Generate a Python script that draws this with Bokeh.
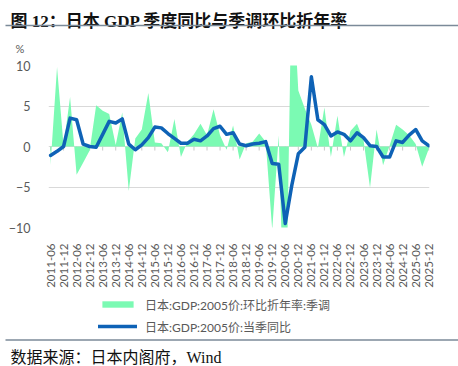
import math
from bokeh.plotting import figure
from bokeh.layouts import column
from bokeh.models import Range1d, FixedTicker, Legend, LegendItem
from bokeh.core.properties import value
from bokeh.embed import file_html
from bokeh.resources import INLINE

# ---------------- data ----------------
quarters = [
    "2011-06", "2011-09", "2011-12", "2012-03", "2012-06", "2012-09", "2012-12",
    "2013-03", "2013-06", "2013-09", "2013-12", "2014-03", "2014-06", "2014-09",
    "2014-12", "2015-03", "2015-06", "2015-09", "2015-12", "2016-03", "2016-06",
    "2016-09", "2016-12", "2017-03", "2017-06", "2017-09", "2017-12", "2018-03",
    "2018-06", "2018-09", "2018-12", "2019-03", "2019-06", "2019-09", "2019-12",
    "2020-03", "2020-06", "2020-09", "2020-12", "2021-03", "2021-06", "2021-09",
    "2021-12", "2022-03", "2022-06", "2022-09", "2022-12", "2023-03", "2023-06",
    "2023-09", "2023-12", "2024-03", "2024-06", "2024-09", "2024-12", "2025-03",
    "2025-06", "2025-09", "2025-12",
]
# 日本:GDP:2005价:环比折年率:季调 (%)
saar = [
    -2.3, 9.8, 0.1, 6.1, -3.5, -2.0, -0.5, 5.1, 4.4, 4.0,
    0.2, 4.2, -5.5, 1.0, 2.1, 6.6, 0.5, 0.4, -0.7, 3.4,
    -1.3, 0.6, 1.5, 2.8, 1.4, 4.6, 1.4, -0.4, 2.6, -1.6,
    0.4, 0.6, 1.6, 0.6, -10.3, 1.4, -28.0, 22.0, 6.9, 4.7,
    2.7, -0.2, 4.8, -1.3, 3.8, -1.3, 1.9, 2.8, 0.8, -5.1,
    2.1, -2.3, 0.1, 2.7, 2.1, 1.4, 0.3, -2.5, -0.3,
]
# 日本:GDP:2005价:当季同比 (%)
yoy = [
    -1.1, -0.6, 0.0, 3.5, 3.3, 0.3, 0.0, -0.1, 1.5, 3.1,
    2.9, 3.4, 0.3, -0.4, 0.2, 1.1, 2.4, 2.3, 1.6, 1.0,
    0.4, 0.4, 0.9, 0.7, 1.3, 2.2, 2.5, 1.5, 1.7, 0.3,
    0.1, 0.3, 0.4, 0.6, -2.1, -2.2, -9.5, -4.8, -0.9, -0.1,
    8.6, 3.3, 2.7, 1.3, 1.8, 1.5, 0.7, 1.7, 1.1, 0.1,
    0.0, -1.3, -1.3, 0.7, 0.5, 1.4, 2.1, 0.7, 0.1,
]
tick_labels = [
    "2011-06", "2011-12", "2012-06", "2012-12", "2013-06", "2013-12",
    "2014-06", "2014-12", "2015-06", "2015-12", "2016-06", "2016-12",
    "2017-06", "2017-12", "2018-06", "2018-12", "2019-06", "2019-12",
    "2020-06", "2020-12", "2021-06", "2021-12", "2022-06", "2022-12",
    "2023-06", "2023-12", "2024-06", "2024-12", "2025-06", "2025-12",
]
y_ticks = [-10, -5, 0, 5, 10]

title_text = "图 12：日本 GDP 季度同比与季调环比折年率"
source_text = "数据来源：日本内阁府，Wind"
unit_text = "%"
name_saar = "日本:GDP:2005价:环比折年率:季调"
name_yoy = "日本:GDP:2005价:当季同比"

# ---------------- style ----------------
GREEN = "#7BFAB3"
BLUE = "#0E62B6"
GRID = "#d9d9d9"
TXT = "#595959"
RULE = "#7b8a99"
SANS = "Lato, 'Noto Sans CJK SC'"
SERIF = "'Liberation Serif', 'Noto Sans CJK SC'"
NAN = float("nan")


def strip(h):
    f = figure(width=458, height=h, x_range=Range1d(0, h and 458), y_range=Range1d(0, h),
               output_backend="svg", toolbar_location=None, min_border=0,
               x_axis_type=None, y_axis_type=None)
    f.grid.visible = False
    f.outline_line_color = None
    f.frame_align = False
    return f


xs = [quarters.index(q) for q in quarters]
tick_pos = [quarters.index(t) for t in tick_labels]

# ---------------- title strip (title, rule, unit) ----------------
pt = strip(56)
pt.text(x=[10], y=[35.5], text=[title_text], text_font=value(SERIF),
        text_font_size="17px", text_font_style="bold", text_color="#111111",
        text_baseline="alphabetic", text_align="left")
pt.segment(x0=[5], y0=[31], x1=[458], y1=[31], line_color=RULE, line_width=1.5)
pt.text(x=[15], y=[8.5], text=[unit_text], text_font=value(SANS),
        text_font_size="11px", text_color=TXT,
        text_baseline="alphabetic", text_align="left")

# ---------------- main chart ----------------
p = figure(width=458, height=234, x_range=Range1d(-0.31, 58.12), y_range=Range1d(-10, 10),
           output_backend="svg", toolbar_location=None,
           min_border_left=48, min_border_right=29, min_border_top=9, min_border_bottom=60)
p.frame_align = False
p.outline_line_color = None
p.background_fill_color = "white"

p.xgrid.visible = False
p.ygrid.ticker = FixedTicker(ticks=y_ticks)
p.ygrid.grid_line_color = GRID
p.ygrid.grid_line_width = 1

# small tick marks on the zero line
p.segment(x0=tick_pos, y0=[0] * len(tick_pos), x1=tick_pos, y1=[-0.5] * len(tick_pos),
          line_color="#c8c8c8", line_width=1)

p.varea(x=xs, y1=[0] * len(xs), y2=saar, fill_color=GREEN, fill_alpha=1.0)
p.line(x=xs, y=yoy, line_color=BLUE, line_width=3.5, line_join="round", line_cap="round")

yax = p.yaxis[0]
yax.ticker = FixedTicker(ticks=y_ticks)
yax.axis_line_color = None
yax.major_tick_line_color = None
yax.minor_tick_line_color = None
yax.major_label_standoff = 12
yax.major_label_text_font = SANS
yax.major_label_text_font_size = "12.5px"
yax.major_label_text_color = TXT

xax = p.xaxis[0]
xax.ticker = FixedTicker(ticks=tick_pos)
xax.major_label_overrides = {pos: lab for pos, lab in zip(tick_pos, tick_labels)}
xax.major_label_orientation = math.pi / 2
xax.axis_line_color = None
xax.major_tick_line_color = None
xax.minor_tick_line_color = None
xax.major_label_standoff = 10
xax.major_label_text_font = SANS
xax.major_label_text_font_size = "11.5px"
xax.major_label_text_color = TXT

# ---------------- legend strip (legend keys use proxy renderers with no visible data) ----------------
pl = strip(48)
lg_area = pl.varea(x=[NAN], y1=[NAN], y2=[NAN], fill_color=GREEN, fill_alpha=1.0)
lg_line = pl.line(x=[NAN], y=[NAN], line_color=BLUE, line_width=3.5, line_cap="round")
legend = Legend(items=[LegendItem(label=name_saar, renderers=[lg_area]),
                       LegendItem(label=name_yoy, renderers=[lg_line])],
                location=(98, 3.5), orientation="vertical",
                padding=0, margin=0, spacing=5,
                glyph_width=39, glyph_height=8, label_height=16, label_standoff=8,
                label_text_font=SANS, label_text_font_size="12px",
                label_text_color=TXT, border_line_color=None,
                background_fill_alpha=0.0)
pl.add_layout(legend, "center")

# ---------------- source strip ----------------
pf = strip(28)
pf.segment(x0=[5], y0=[26.5], x1=[458], y1=[26.5], line_color=RULE, line_width=1.5)
pf.text(x=[10], y=[9], text=[source_text], text_font=value(SERIF),
        text_font_size="16px", text_color="#111111",
        text_baseline="alphabetic", text_align="left")

layout = column(pt, p, pl, pf, spacing=0)
open("out.html", "w").write(file_html(layout, INLINE))
